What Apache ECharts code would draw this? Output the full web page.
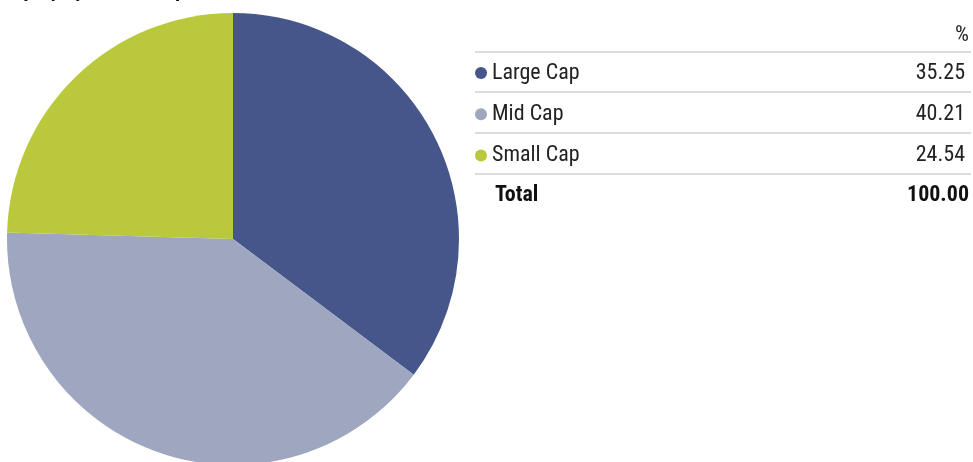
<!DOCTYPE html>
<html>
<head>
<meta charset="utf-8">
<script src="https://cdn.jsdelivr.net/npm/echarts@6/dist/echarts.min.js"></script>
<style>
  html, body { margin: 0; padding: 0; background: #fff; }
  #main { width: 973px; height: 462px; }
</style>
</head>
<body>
<div id="main"></div>
<script>
// data
var categories = ['Large Cap', 'Mid Cap', 'Small Cap'];
var weights = [35.25, 40.21, 24.54];
var colors = ['#46568a', '#9ea6c0', '#b9c93b'];
var titleText = 'Equity by Market Cap';
var unitLabel = '%';
var totalLabel = 'Total';

var font = '"Roboto Condensed", Roboto, sans-serif';
var mychart = echarts.init(document.getElementById('main'));

var total = weights.reduce(function (a, b) { return a + b; }, 0);

// table layout
var tableLeft = 475, tableRight = 971, textLeft = 495, valueRight = 969;
var firstRow = 73, rowStep = 40.6;

var pieData = categories.map(function (c, i) {
    return { name: c, value: weights[i], itemStyle: { color: colors[i] } };
});

var graphics = [];
// header %
graphics.push({
    type: 'text', x: valueRight, y: 35,
    style: { text: unitLabel, font: '22px ' + font, fill: '#222', align: 'right', verticalAlign: 'middle' }
});
// separator lines
for (var i = 0; i <= categories.length; i++) {
    var y = Math.round(firstRow - rowStep / 2 + i * rowStep) - 1;
    graphics.push({
        type: 'line',
        shape: { x1: tableLeft, y1: y, x2: tableRight, y2: y },
        style: { stroke: '#dcdcdc', lineWidth: 2 }
    });
}
// total row
var totalY = firstRow + categories.length * rowStep + 1;
graphics.push({
    type: 'text', x: textLeft, y: totalY,
    style: { text: totalLabel, font: 'bold 22px ' + font, fill: '#111', verticalAlign: 'middle' }
});
graphics.push({
    type: 'text', x: valueRight, y: totalY,
    style: { text: total.toFixed(2), font: 'bold 22px ' + font, fill: '#111', align: 'right', verticalAlign: 'middle' }
});

option = {
    animation: false,
    title: {
        text: titleText,
        left: 8,
        top: -19,
        padding: 0,
        textStyle: { fontFamily: font, fontWeight: 'bold', fontSize: 21, color: '#111' }
    },
    legend: {
        orient: 'vertical',
        left: tableLeft,
        top: firstRow - 11,
        padding: 0,
        itemGap: 19.2,
        itemWidth: 12,
        itemHeight: 12,
        icon: 'circle',
        selectedMode: false,
        data: categories,
        formatter: function (name) {
            var v = weights[categories.indexOf(name)];
            return '{n|' + name + '}{v|' + v.toFixed(2) + '}';
        },
        textStyle: {
            fontFamily: font,
            fontSize: 22,
            color: '#222',
            rich: {
                n: { width: 393, fontFamily: font, fontSize: 22, lineHeight: 20, color: '#222' },
                v: { width: 80, align: 'right', fontFamily: font, fontSize: 22, lineHeight: 20, color: '#222' }
            }
        }
    },
    graphic: graphics,
    series: [
        {
            name: 'Equity',
            type: 'pie',
            center: [233, 239],
            radius: 226,
            startAngle: 90,
            clockwise: true,
            label: { show: false },
            labelLine: { show: false },
            emphasis: { disabled: true },
            itemStyle: { borderWidth: 0 },
            data: pieData
        }
    ]
};
mychart.setOption(option);
</script>
</body>
</html>
